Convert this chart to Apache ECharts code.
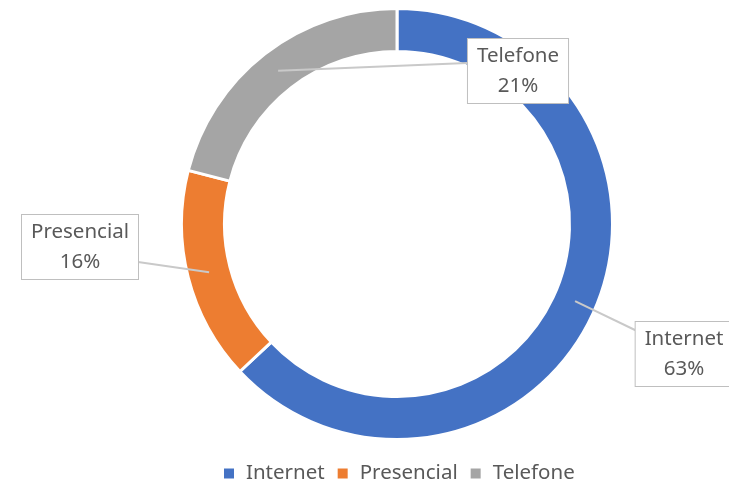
<!DOCTYPE html>
<html>
<head>
<meta charset="utf-8">
<script src="https://cdn.jsdelivr.net/npm/echarts@6/dist/echarts.min.js"></script>
<style>
    html, body {margin: 0; padding: 0; background: #fff;}
    #chart {width: 729px; height: 487px;}
</style>
</head>
<body>
<div id="chart"></div>
<script>
// dados
var categorias = ['Internet', 'Presencial', 'Telefone'];
var valores = [63, 16, 21];
var cores = ['#4472C4', '#ED7D31', '#A5A5A5'];

// posições das caixas de rótulo (centro) e fim da linha de chamada
var caixas = [
    {x: 684, y: 354, fim: [637, 331]},
    {x: 80, y: 247, fim: [138, 262]},
    {x: 518, y: 71, fim: [467, 63]}
];

var CX = 397, CY = 224;
var R_LINHA = 194; // meio do anel

var myChart = echarts.init(document.getElementById('chart'));

var dados = [];
var dadosRotulo = [];
for (var i = 0; i < categorias.length; i++) {
    dados.push({name: categorias[i], value: valores[i], itemStyle: {color: cores[i]}});
    dadosRotulo.push({name: categorias[i], value: valores[i]});
}

var option = {
    animation: false,
    legend: {
        data: categorias,
        top: 458,
        left: 217,
        icon: 'rect',
        itemWidth: 12,
        itemHeight: 12,
        itemGap: 11,
        textStyle: {
            color: '#595959',
            fontFamily: 'Noto Sans',
            fontSize: 20.5,
            padding: [0, 0, 0, 6]
        }
    },
    series: [
        {
            // anel
            type: 'pie',
            center: [CX, CY],
            radius: [172.5, 215.5],
            startAngle: 90,
            clockwise: true,
            label: {show: false},
            labelLine: {show: false},
            itemStyle: {
                borderColor: '#fff',
                borderWidth: 3
            },
            emphasis: {disabled: true},
            data: dados
        },
        {
            // só rótulos e linhas de chamada, por cima do anel
            type: 'pie',
            z: 5,
            silent: true,
            center: [CX, CY],
            radius: [172.5, 215.5],
            startAngle: 90,
            clockwise: true,
            avoidLabelOverlap: false,
            itemStyle: {
                color: 'rgba(0,0,0,0)',
                borderWidth: 0
            },
            label: {
                show: true,
                position: 'outside',
                formatter: function (p) {
                    return p.name + '\n' + p.value + '%';
                },
                color: '#595959',
                fontFamily: 'Noto Sans',
                fontSize: 20.5,
                lineHeight: 30,
                align: 'center',
                backgroundColor: '#fff',
                borderColor: '#bfbfbf',
                borderWidth: 1,
                padding: [2, 9, 2, 9]
            },
            labelLine: {
                show: true,
                length: 5,
                length2: 5,
                lineStyle: {
                    color: '#c9c9c9',
                    width: 2
                }
            },
            labelLayout: function (params) {
                var c = caixas[params.dataIndex];
                var p0 = params.labelLinePoints[0];
                var dx = p0[0] - CX, dy = p0[1] - CY;
                var d = Math.sqrt(dx * dx + dy * dy);
                var ini = [CX + dx / d * R_LINHA, CY + dy / d * R_LINHA];
                return {
                    x: c.x,
                    y: c.y,
                    align: 'center',
                    verticalAlign: 'middle',
                    labelLinePoints: [ini, c.fim, c.fim]
                };
            },
            emphasis: {disabled: true},
            data: dadosRotulo
        }
    ]
};

myChart.setOption(option);
</script>
</body>
</html>
